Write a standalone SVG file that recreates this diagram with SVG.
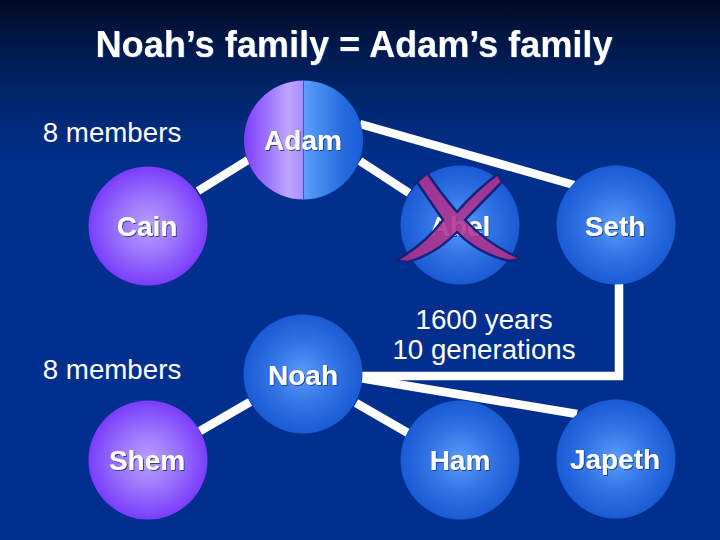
<svg xmlns="http://www.w3.org/2000/svg" width="720" height="540" viewBox="0 0 720 540">
<style>
.b{font-family:"Liberation Sans",Arial,sans-serif;font-size:28px;font-weight:bold;fill:#fff;text-anchor:middle;filter:url(#s)}
.t{font-family:"Liberation Sans",Arial,sans-serif;font-size:27.700px;fill:#fff;text-anchor:middle}
.c{stroke:#fff;stroke-width:8.500;fill:none}
</style>
<defs>
<linearGradient id="bg" x1="0" y1="0" x2="0" y2="1"><stop offset="0" stop-color="#000a24"/><stop offset=".06" stop-color="#001540"/><stop offset=".16" stop-color="#002468"/><stop offset=".3" stop-color="#002f8c"/><stop offset="1" stop-color="#002f90"/></linearGradient>
<radialGradient id="p"><stop offset="0" stop-color="#b9a0ff"/><stop offset=".5" stop-color="#9a74fc"/><stop offset="1" stop-color="#7a3dfb"/></radialGradient>
<radialGradient id="u"><stop offset="0" stop-color="#5a9dfb"/><stop offset=".55" stop-color="#3172e4"/><stop offset="1" stop-color="#1a5ad4"/></radialGradient>
<linearGradient id="pl" x1="0" y1="0" x2="1" y2="0"><stop offset="0" stop-color="#7a3dfb"/><stop offset=".75" stop-color="#bda6fd"/><stop offset="1" stop-color="#a98cfc"/></linearGradient>
<linearGradient id="ul" x1="0" y1="0" x2="1" y2="0"><stop offset="0" stop-color="#5aa0fb"/><stop offset=".7" stop-color="#2469dc"/><stop offset="1" stop-color="#1a5cd8"/></linearGradient>
<filter id="s" x="-10%" y="-10%" width="120%" height="120%"><feDropShadow dx="1" dy="1" stdDeviation="0.4" flood-color="#1a3a80" flood-opacity=".9"/></filter>
</defs>
<rect width="720" height="540" fill="url(#bg)"/>
<text x="354" y="57" font-family="'Liberation Sans',Arial,sans-serif" font-size="36" font-weight="bold" fill="#fff" text-anchor="middle" filter="url(#s)" textLength="517" lengthAdjust="spacingAndGlyphs">Noah’s family = Adam’s family</text>
<g id="connectors">
<path class="c" d="M248 160L198 191"/>
<path class="c" d="M360 124L574 185"/>
<path class="c" d="M360 161L409 193"/>
<path class="c" d="M619 284V376H360"/>
<path class="c" d="M360 378L577 414"/>
<path class="c" d="M250 402L200 431"/>
<path class="c" d="M356 403L408 433"/>
</g>
<text class="t" x="112" y="142">8 members</text>
<text class="t" x="112" y="379">8 members</text>
<g id="note"><text class="t" x="484" y="329">1600 years</text><text class="t" x="484" y="359">10 generations</text></g>
<g id="adam">
<path d="M303.500 80.500A59.500 59.500 0 0 0 303.500 199.500Z" fill="url(#pl)"/>
<path d="M303.500 80.500A59.500 59.500 0 0 1 303.500 199.500Z" fill="url(#ul)"/>
<path d="M303.500 80.500V199.500" stroke="#3a58c8" stroke-width="1"/>
<text class="b" x="303" y="150">Adam</text>
</g>
<g id="cain"><circle cx="148" cy="226" r="59.500" fill="url(#p)"/><text class="b" x="147" y="236">Cain</text></g>
<g id="abel"><circle cx="460" cy="225" r="59.500" fill="url(#u)"/><text class="b" x="460" y="236">Abel</text>
<path d="M417 182L427 173Q443 196 457 212Q476 190 498 174L502 182Q484 200 465 220Q490 246 520 258Q512 262 505 260Q476 252 457 232Q436 254 408 262Q402 262 397 260Q425 244 443 220Q428 198 417 182Z" fill="#b0308c" fill-opacity=".88" stroke="#14237a" stroke-width="2.500" stroke-linejoin="round"/>
</g>
<g id="seth"><circle cx="616" cy="225" r="59.500" fill="url(#u)"/><text class="b" x="615" y="236">Seth</text></g>
<g id="noah"><circle cx="303" cy="374" r="59.500" fill="url(#u)"/><text class="b" x="303" y="385">Noah</text></g>
<g id="shem"><circle cx="148" cy="460" r="59.500" fill="url(#p)"/><text class="b" x="147" y="470">Shem</text></g>
<g id="ham"><circle cx="460" cy="460" r="59.500" fill="url(#u)"/><text class="b" x="460" y="470">Ham</text></g>
<g id="japeth"><circle cx="616" cy="459" r="59.500" fill="url(#u)"/><text class="b" x="615" y="469">Japeth</text></g>
</svg>
